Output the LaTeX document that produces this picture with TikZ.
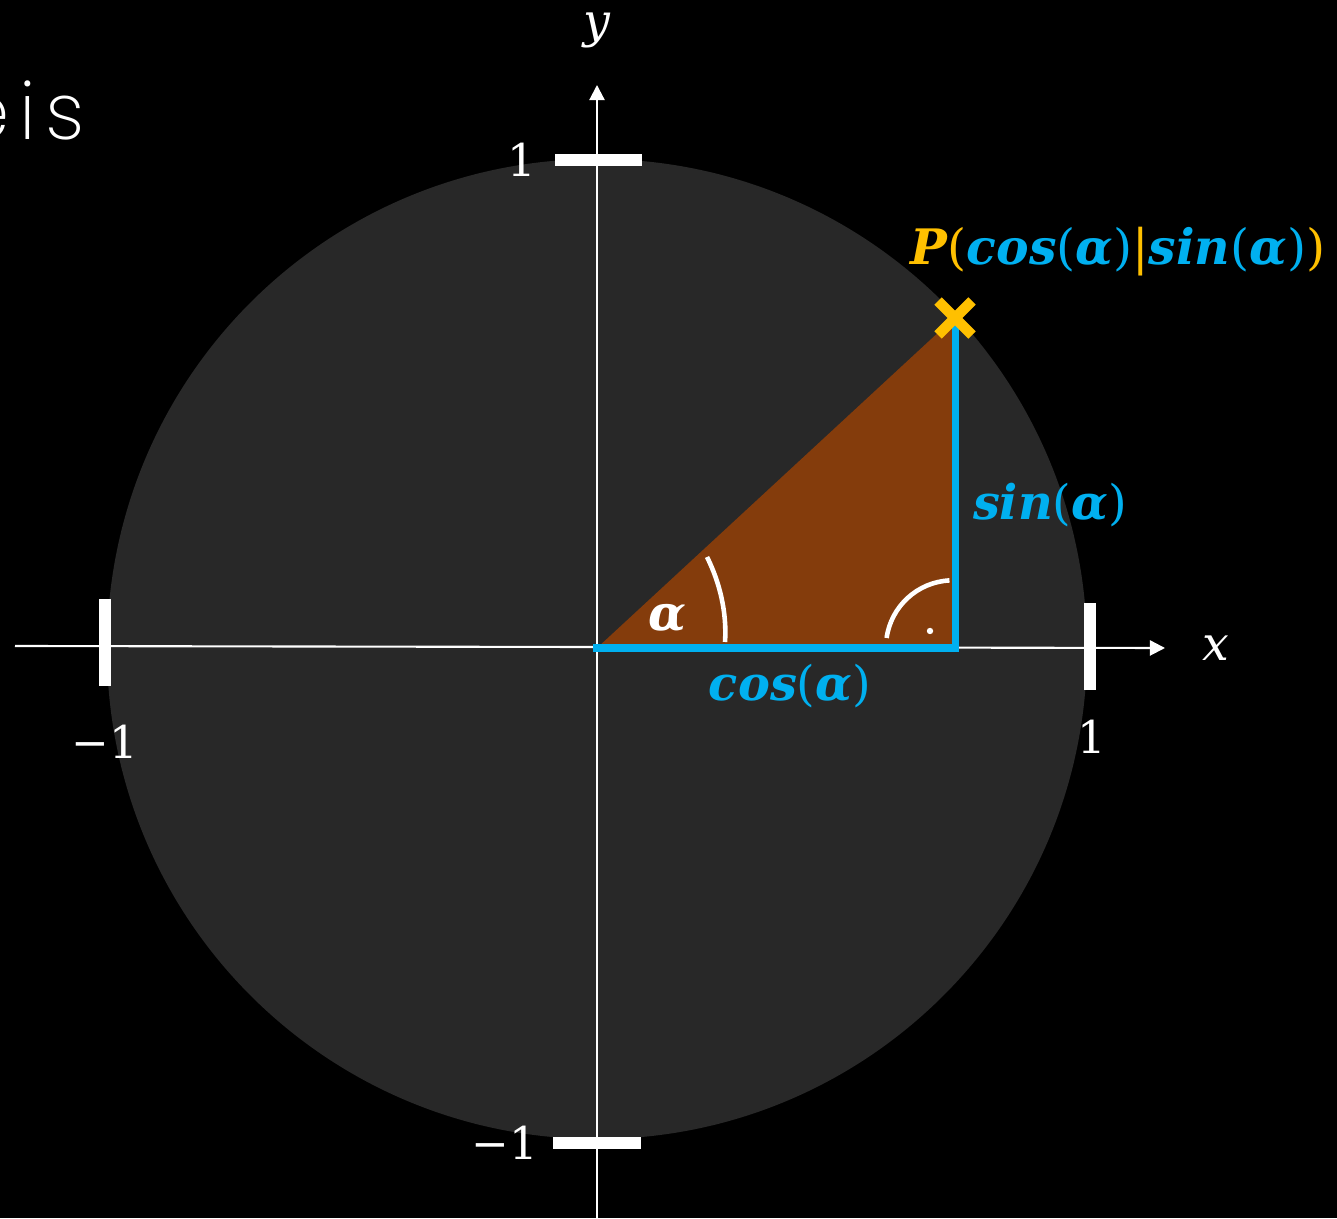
\documentclass[tikz,border=0pt]{standalone}
\usepackage{fontspec}
\setmainfont{DejaVu Serif}
\newfontfamily\thinfont{Poppins ExtraLight}[LetterSpace=12]
\usetikzlibrary{arrows.meta}
\definecolor{bg}{HTML}{000000}
\definecolor{disc}{HTML}{282828}
\definecolor{brownfill}{HTML}{843C0C}
\definecolor{sky}{HTML}{00B0F0}
\definecolor{gold}{HTML}{FFC000}
\newcommand{\upp}[1]{{\mdseries\upshape #1}}
\tikzset{
  axis/.style={white, line width=0.6pt},
  tickmark/.style={white, line width=3.4pt},
  ticklabel/.style={white, font=\fontsize{12.8}{14}\selectfont, inner sep=0pt},
  axislabel/.style={white, font=\fontsize{13.5}{15}\selectfont\itshape, inner sep=0pt},
  bluelab/.style={sky, font=\fontsize{13.6}{16}\selectfont\bfseries\itshape, inner sep=0pt},
  bluetrig/.style={sky, line width=2pt},
  anglemark/.style={white, line width=1.3pt},
}
\begin{document}
\begin{tikzpicture}[x=0.01cm, y=0.01cm]
\fill[bg] (0,0) rectangle (1337,1218);
\useasboundingbox (0,0) rectangle (1337,1218);
% title fragment
\node[anchor=base east, white, inner sep=0pt, font=\thinfont\fontsize{22.5}{24}\selectfont] (title) at (86,1078) {Einheitskreis};
% disc
\fill[disc] (597,569) circle[radius=490];
% coordinates
\coordinate (O) at (597,570);
\coordinate (F) at (955,570);
\coordinate (P) at (955,901);
% triangle
\fill[brownfill] (O) -- (P) -- (F) -- cycle;
% axes
\coordinate (xs) at (15,572);
\coordinate (xe) at (1165,570);
\coordinate (ys) at (597,0);
\coordinate (ye) at (597,1133);
\draw[axis, -{Triangle[length=4.3pt,width=4.3pt]}] (xs) -- (xe);
\draw[axis, -{Triangle[length=4.3pt,width=4.3pt]}] (ys) -- (ye);
\node[axislabel] (xl) at (1216,570) {x};
\node[axislabel] (yl) at (597,1188) {y};
% ticks
\coordinate (tl1) at (105,532); \coordinate (tl2) at (105,619);
\coordinate (tr1) at (1090,528); \coordinate (tr2) at (1090,615);
\coordinate (tt1) at (555,1058); \coordinate (tt2) at (642,1058);
\coordinate (tb1) at (553,75); \coordinate (tb2) at (641,75);
\draw[tickmark] (tl1) -- (tl2);
\draw[tickmark] (tr1) -- (tr2);
\draw[tickmark] (tt1) -- (tt2);
\draw[tickmark] (tb1) -- (tb2);
\node[ticklabel] (lm1) at (105,476) {−1};
\node[ticklabel] (lp1) at (1092,481) {1};
\node[ticklabel] (lt1) at (522,1058) {1};
\node[ticklabel] (lb1) at (505,75) {−1};
% blue legs
\draw[bluetrig, line cap=rect] (O) -- (F) -- (955,893);
% angle marks
\draw[anglemark] (725,576) .. controls (727,605) and (720,635) .. (707,661);
\draw[anglemark] (886.6,580) arc[start angle=172, end angle=93, radius=67];
\fill[white] (930,587) circle[radius=3.2];
\node[white, font=\fontsize{14}{16}\selectfont\bfseries\itshape, inner sep=0pt] (al) at (667,600) {α};
% point marker
\draw[gold, line width=3pt] (938,883) -- (972,917);
\draw[gold, line width=3pt] (938,917) -- (972,883);
% labels
\node[bluelab] (cl) at (790,532) {cos\upp{(}α\upp{)}};
\node[bluelab] (sl) at (1050,713) {sin\upp{(}α\upp{)}};
\node[bluelab, font=\fontsize{13.9}{16}\selectfont\bfseries\itshape] (pl) at (1118,966) {\textcolor{gold}{P\upp{(}}cos\upp{(}α\upp{)}\textcolor{gold}{\upp{|}}sin\upp{(}α\upp{)}\textcolor{gold}{\upp{)}}};
\end{tikzpicture}
\end{document}
